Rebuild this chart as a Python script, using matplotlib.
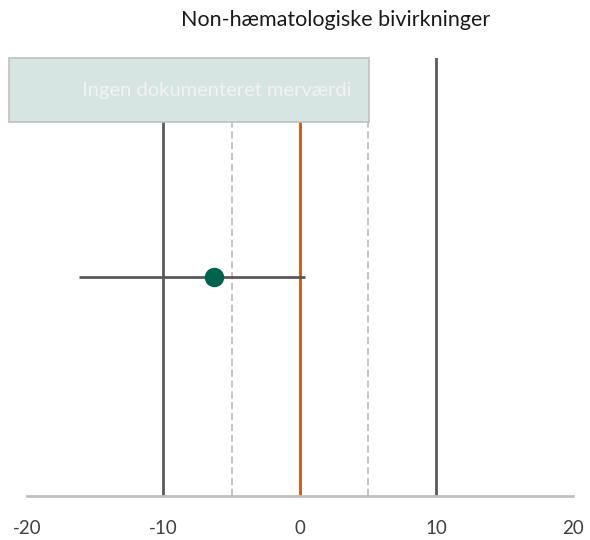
import matplotlib.pyplot as plt
from matplotlib.patches import Rectangle

# data
titel = 'Non-hæmatologiske bivirkninger'
boks_tekst = 'Ingen dokumenteret merværdi'
estimat = [-6.3]
nedre = [-16.2]
oevre = [0.35]
y_pos = [0.5]
graenser = [-10, 10]
stiplet = [-5, 5]
nul = 0
boks_x = [-21.3, 5.1]
boks_y = [0.853, 1.0]
xticks = [-20, -10, 0, 10, 20]

plt.rcParams['font.family'] = ['Lato', 'DejaVu Sans']

fig = plt.figure(figsize=(5.9, 5.4), dpi=100)
ax = fig.add_axes([0.0458, 0.0815, 0.925, 0.811])
ax.set_xlim(-20, 20)
ax.set_ylim(0, 1)

# lodrette linjer
for g in graenser:
    ax.axvline(g, color='#595959', lw=2, zorder=1)
for s in stiplet:
    ax.axvline(s, color='#BFBFBF', lw=1.3, ls=(0, (4, 2)), zorder=1)
ax.axvline(nul, color='#C55A11', lw=2, zorder=1)

# boks
ax.add_patch(Rectangle((boks_x[0], boks_y[0]), boks_x[1] - boks_x[0], boks_y[1] - boks_y[0],
                       facecolor='#D6E5E1', edgecolor='#BFBFBF', lw=1.2, zorder=3, clip_on=False))
ax.text(-6.1, (boks_y[0] + boks_y[1]) / 2, boks_tekst, color='#F2F2F2', fontsize=14.5,
        ha='center', va='center', zorder=4)

# estimat med konfidensinterval
ax.errorbar(estimat, y_pos, xerr=[[e - n for e, n in zip(estimat, nedre)],
                                  [o - e for e, o in zip(estimat, oevre)]],
            fmt='none', ecolor='#595959', elinewidth=2, capsize=0, zorder=5)
ax.plot(estimat, y_pos, 'o', color='#00634F', ms=13, zorder=6)

for side in ['top', 'right', 'left']:
    ax.spines[side].set_visible(False)
ax.spines['bottom'].set_color('#BFBFBF')
ax.spines['bottom'].set_linewidth(2)
ax.set_yticks([])
ax.set_xticks(xticks)
ax.set_xticklabels([str(t) for t in xticks])
ax.tick_params(axis='x', length=0, pad=17, labelsize=13.5, labelcolor='#404040')

fig.text(336 / 590, 1 - 20 / 540, titel, ha='center', va='center', fontsize=15.5, color='#1a1a1a')

fig.savefig('out.png', dpi=100)
